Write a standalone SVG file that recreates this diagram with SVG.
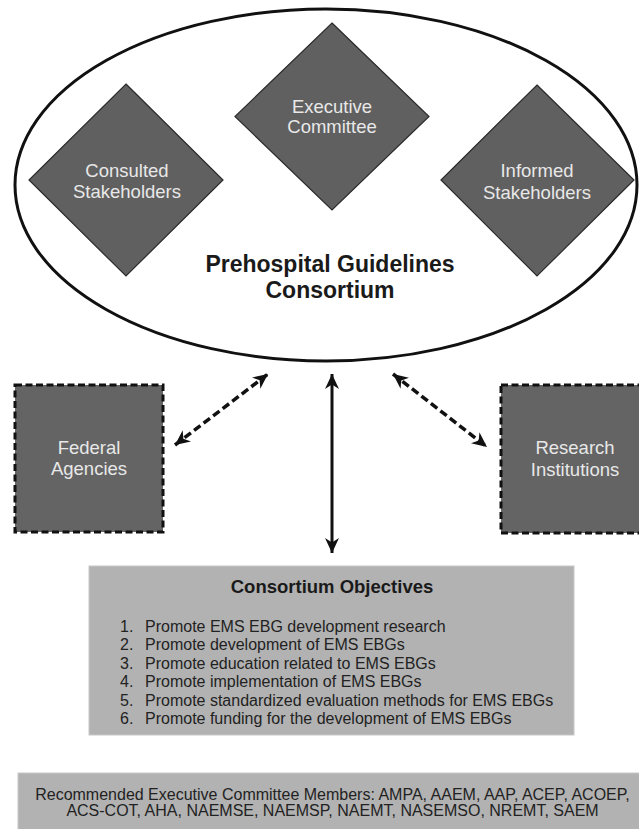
<svg xmlns="http://www.w3.org/2000/svg" width="639" height="829" viewBox="0 0 639 829">
  <style>
    .dia { fill: #606060; stroke: #2a2a2a; stroke-width: 1.2; }
    .dbox { fill: #646464; stroke: #111; stroke-width: 3; stroke-dasharray: 7 3.5; }
    .gbox { fill: #b2b2b2; stroke: #c8c8c8; stroke-width: 1; }
    .lt { font-family: "Liberation Sans", Arial, sans-serif; font-size: 18.5px; fill: #e8e8e8; text-anchor: middle; }
    .title { font-family: "Liberation Sans", Arial, sans-serif; font-weight: bold; fill: #1a1a1a; text-anchor: middle; }
    .body { font-family: "Liberation Sans", Arial, sans-serif; font-size: 16px; fill: #222; }
    .conn { fill: none; stroke: #111; stroke-width: 3; }
    .dash { stroke-width: 3.5; stroke-dasharray: 8 4; }
  </style>
  <defs>
    <marker id="ah" viewBox="0 0 16 16" refX="15" refY="8" markerWidth="16" markerHeight="16" markerUnits="userSpaceOnUse" orient="auto-start-reverse">
      <path d="M0,1 L15,8 L0,15 L4.5,8 Z" fill="#111"/>
    </marker>
  </defs>

  <rect width="639" height="829" fill="#ffffff"/>

  <g id="consortium">
    <ellipse cx="326" cy="185" rx="311" ry="176" fill="#ffffff" stroke="#111" stroke-width="3"/>
    <text class="title" font-size="23" x="330" y="272">Prehospital Guidelines</text>
    <text class="title" font-size="23" x="330" y="298">Consortium</text>
  </g>

  <g id="executive-committee">
    <polygon class="dia" points="332,23 429,116.5 332,210 235,116.5"/>
    <text class="lt" x="332" y="113">Executive</text>
    <text class="lt" x="332" y="133">Committee</text>
  </g>

  <g id="consulted-stakeholders">
    <polygon class="dia" points="126,84 223,180 126,276 29,180"/>
    <text class="lt" x="127" y="177">Consulted</text>
    <text class="lt" x="127" y="198">Stakeholders</text>
  </g>

  <g id="informed-stakeholders">
    <polygon class="dia" points="537,85 634,180 537,276 441,180"/>
    <text class="lt" x="537" y="177">Informed</text>
    <text class="lt" x="537" y="199">Stakeholders</text>
  </g>

  <g id="federal-agencies">
    <rect class="dbox" x="15" y="385" width="148" height="147"/>
    <text class="lt" x="89" y="454">Federal</text>
    <text class="lt" x="89" y="475">Agencies</text>
  </g>

  <g id="research-institutions">
    <rect class="dbox" x="501" y="385" width="150" height="148"/>
    <text class="lt" x="575" y="454">Research</text>
    <text class="lt" x="575" y="476">Institutions</text>
  </g>

  <g id="connectors">
    <line class="conn dash" x1="175" y1="445" x2="268" y2="374" marker-start="url(#ah)" marker-end="url(#ah)"/>
    <line class="conn" x1="332" y1="374" x2="332" y2="553" stroke-width="2.5" marker-start="url(#ah)" marker-end="url(#ah)"/>
    <line class="conn dash" x1="393" y1="374" x2="487" y2="447" marker-start="url(#ah)" marker-end="url(#ah)"/>
  </g>

  <g id="consortium-objectives">
    <rect class="gbox" x="89" y="566" width="485" height="169"/>
    <text class="title" font-size="18.5" x="332" y="593">Consortium Objectives</text>
    <text class="body" x="120" y="632">1.</text>
    <text class="body" x="145" y="632">Promote EMS EBG development research</text>
    <text class="body" x="120" y="650">2.</text>
    <text class="body" x="145" y="650">Promote development of EMS EBGs</text>
    <text class="body" x="120" y="668.5">3.</text>
    <text class="body" x="145" y="668.5">Promote education related to EMS EBGs</text>
    <text class="body" x="120" y="687">4.</text>
    <text class="body" x="145" y="687">Promote implementation of EMS EBGs</text>
    <text class="body" x="120" y="705.5">5.</text>
    <text class="body" x="145" y="705.5">Promote standardized evaluation methods for EMS EBGs</text>
    <text class="body" x="120" y="724">6.</text>
    <text class="body" x="145" y="724">Promote funding for the development of EMS EBGs</text>
  </g>

  <g id="executive-members">
    <rect class="gbox" x="18" y="773" width="630" height="60"/>
    <text class="body" x="332.5" y="800" text-anchor="middle">Recommended Executive Committee Members: AMPA, AAEM, AAP, ACEP, ACOEP,</text>
    <text class="body" x="332.5" y="816" text-anchor="middle">ACS-COT, AHA, NAEMSE, NAEMSP, NAEMT, NASEMSO, NREMT, SAEM</text>
  </g>
</svg>
